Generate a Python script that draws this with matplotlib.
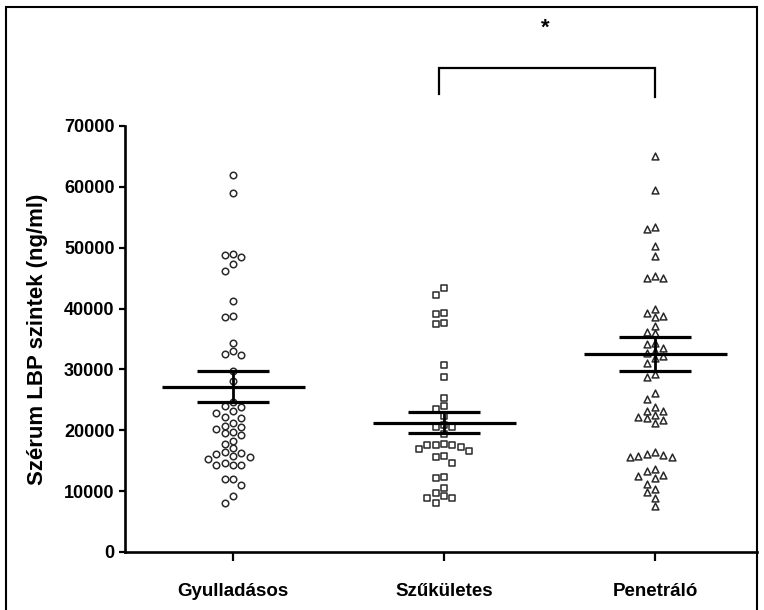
import numpy as np
import matplotlib
matplotlib.use("Agg")
import matplotlib.pyplot as plt
from matplotlib.patches import Rectangle

plt.rcParams['font.family'] = ['Liberation Sans', 'DejaVu Sans']
plt.rcParams['font.weight'] = 'bold'

# Groups and measured serum LBP levels (ng/ml)
categories = ["Gyulladásos", "Szűkületes", "Penetráló"]

gyulladasos = [62000, 59000, 48960, 48520, 48850, 47320, 46220, 41290, 38820,
               38560, 34390, 32480, 32310, 32970, 29740, 28140, 24690, 24040,
               23770, 23170, 22890, 21970, 22130, 21250, 20750, 20490, 20160,
               19500, 19220, 19670, 18290, 17740, 17040, 16310, 15770, 15550,
               16100, 16380, 15230, 14290, 14290, 14290, 14570, 11940, 11010,
               11940, 8100, 9200]

szukuletes = [43320, 42230, 39050, 39320, 37570, 37460, 30720, 28800, 25350,
              24040, 23450, 22400, 20590, 20800, 20590, 19390, 17740, 17580,
              17300, 16600, 16870, 17580, 17580, 15660, 15770, 14570, 12110,
              12270, 10470, 8900, 9640, 8900, 9200, 8000]

penetralo = [65110, 59480, 53350, 53020, 50330, 48680, 45350, 44970, 45070,
             39920, 38820, 38560, 39220, 37180, 35930, 36100, 34390, 33470,
             33070, 34170, 32640, 31820, 32200, 31000, 28700, 29240, 26070,
             25080, 23770, 23220, 22510, 23220, 22230, 21690, 21140, 21970,
             16100, 15820, 15550, 15660, 15940, 16480, 13640, 13360, 12650,
             12490, 12110, 11120, 10350, 9810, 8820, 7560]

group_means = [27160, 21250, 32530]
group_sems = [2500, 1730, 2830]

yticks = [0, 10000, 20000, 30000, 40000, 50000, 60000, 70000]

# significance bracket between Szűkületes and Penetráló
sig_pair = (1, 2)
sig_label = "*"

W, H = 764, 610
fig = plt.figure(figsize=(W / 100, H / 100), dpi=100)
ax = fig.add_axes([125 / W, 58 / H, 632 / W, 426 / H])
ax.set_xlim(-0.512, 2.483)
ax.set_ylim(0, 70000)

for s in ['top', 'right']:
    ax.spines[s].set_visible(False)
for s in ['left', 'bottom']:
    ax.spines[s].set_linewidth(1.9)

ax.set_yticks(yticks)
ax.set_yticklabels([str(t) for t in yticks])
ax.set_xticks(range(len(categories)))
ax.set_xticklabels(categories)
ax.tick_params(axis='y', length=4.5, width=1.6, pad=3, labelsize=13)
ax.tick_params(axis='x', length=6.5, width=1.6, pad=16, labelsize=13.5)
ax.set_ylabel("Szérum LBP szintek (ng/ml)", fontsize=16, fontweight='bold')
ax.yaxis.set_label_coords(-0.122, 0.5)

fig.canvas.draw()


def swarm_offsets(values, step_px=8.3, min_gap_px=7.4):
    """Horizontal slot offsets (pixels) so that markers do not overlap."""
    ypx = ax.transData.transform(np.column_stack([np.zeros(len(values)), values]))[:, 1]
    order = np.argsort(-np.asarray(values))
    placed = {}
    offs = np.zeros(len(values))
    for i in order:
        k_list = [0]
        for k in range(1, 8):
            k_list += [-k, k]
        for k in k_list:
            if all(abs(ypx[i] - y) >= min_gap_px for y in placed.get(k, [])):
                placed.setdefault(k, []).append(ypx[i])
                offs[i] = k * step_px
                break
    return offs


px_per_x = ax.transData.transform((1, 0))[0] - ax.transData.transform((0, 0))[0]

groups = [gyulladasos, szukuletes, penetralo]
markers = ['o', 's', '^']
sizes = [22, 20, 24]
for gi, (vals, m, sz) in enumerate(zip(groups, markers, sizes)):
    offs = swarm_offsets(vals)
    xs = gi + offs / px_per_x
    ax.scatter(xs, vals, marker=m, s=sz, facecolors='white',
               edgecolors='#2a2a2a', linewidths=1.1, zorder=3, clip_on=False)

# mean and SEM bars
for gi, (mu, se) in enumerate(zip(group_means, group_sems)):
    ax.hlines(mu, gi - 0.339, gi + 0.339, colors='black', linewidth=2.3, zorder=4)
    ax.hlines([mu - se, mu + se], gi - 0.171, gi + 0.171, colors='black',
              linewidth=2.3, zorder=4)
    ax.vlines(gi, mu - se, mu + se, colors='black', linewidth=2.0, zorder=4)

# significance bracket
a, b = sig_pair
ax.plot([a - 0.024, a - 0.024, b, b], [75200, 79550, 79550, 74800],
        color='black', linewidth=1.6, clip_on=False, solid_joinstyle='miter')
ax.text((a + b) / 2 - 0.02, 86100, sig_label, ha='center', va='center',
        fontsize=16, fontweight='bold', clip_on=False)

# outer frame
fig.add_artist(Rectangle((6 / W, -0.05), 751 / W, 1.05 - 7 / H,
                         transform=fig.transFigure, fill=False,
                         edgecolor='black', linewidth=1.5))

fig.savefig("out.png", dpi=100)
